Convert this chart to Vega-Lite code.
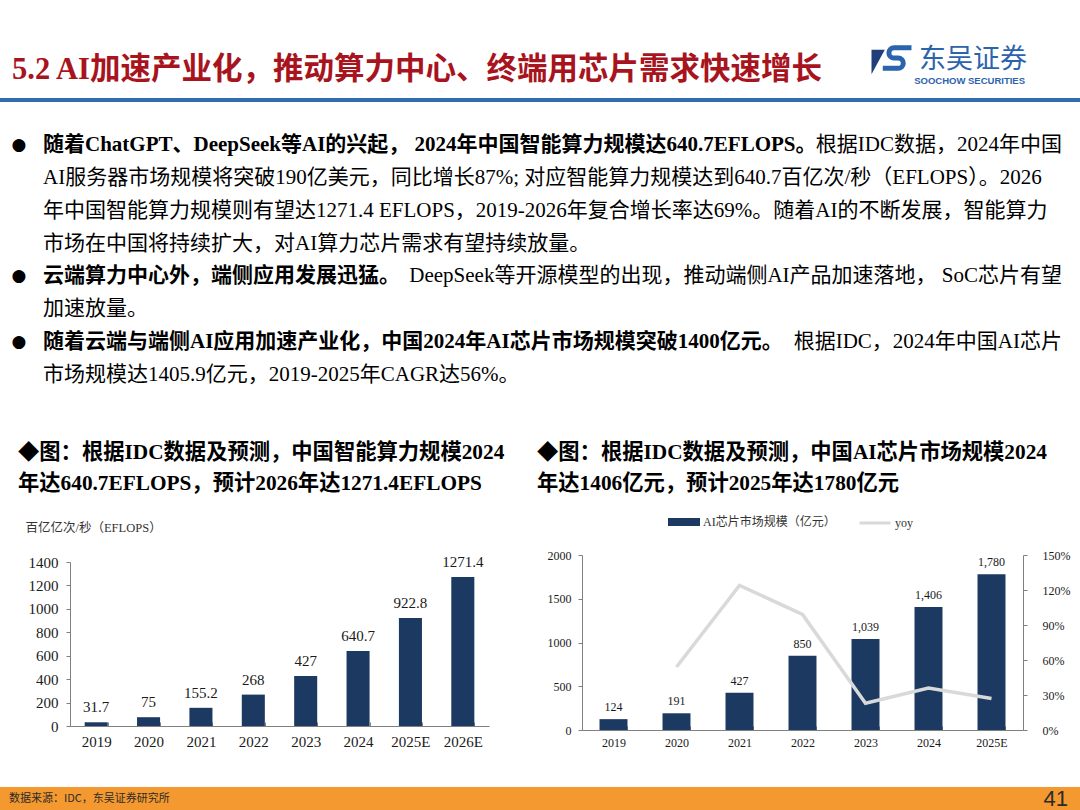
{
  "$schema": "https://vega.github.io/schema/vega-lite/v6.json",
  "background": "white",
  "padding": 0,
  "columns": 4,
  "spacing": 0,
  "bounds": "flush",
  "align": "each",
  "config": {
    "view": {"stroke": null},
    "font": "Liberation Serif, Noto Sans CJK SC",
    "text": {"font": "Liberation Serif, Noto Sans CJK SC", "color": "#000000"},
    "axis": {"labelFont": "Liberation Serif, Noto Sans CJK SC", "titleFont": "Liberation Serif, Noto Sans CJK SC", "grid": false, "domainColor": "#808080", "tickColor": "#808080", "labelColor": "#1a1a1a"},
    "legend": {"labelFont": "Liberation Serif, Noto Sans CJK SC"},
    "title": {"font": "Liberation Serif, Noto Sans CJK SC"}
  },
  "datasets": {
    "bullets": [
      {"line": 1, "part": "lead", "kind": "key", "bullet": true, "text": "随着ChatGPT、DeepSeek等AI的兴起， 2024年中国智能算力规模达640.7EFLOPS。"},
      {"line": 1, "part": "tail", "kind": "body", "bullet": false, "text": "根据IDC数据，2024年中国"},
      {"line": 2, "part": "lead", "kind": "body", "bullet": false, "text": "AI服务器市场规模将突破190亿美元，同比增长87%; 对应智能算力规模达到640.7百亿次/秒（EFLOPS）。2026"},
      {"line": 3, "part": "lead", "kind": "body", "bullet": false, "text": "年中国智能算力规模则有望达1271.4 EFLOPS，2019-2026年复合增长率达69%。随着AI的不断发展，智能算力"},
      {"line": 4, "part": "lead", "kind": "body", "bullet": false, "text": "市场在中国将持续扩大，对AI算力芯片需求有望持续放量。"},
      {"line": 5, "part": "lead", "kind": "key", "bullet": true, "text": "云端算力中心外，端侧应用发展迅猛。"},
      {"line": 5, "part": "tail", "kind": "body", "bullet": false, "text": "DeepSeek等开源模型的出现，推动端侧AI产品加速落地， SoC芯片有望"},
      {"line": 6, "part": "lead", "kind": "body", "bullet": false, "text": "加速放量。"},
      {"line": 7, "part": "lead", "kind": "key", "bullet": true, "text": "随着云端与端侧AI应用加速产业化，中国2024年AI芯片市场规模突破1400亿元。"},
      {"line": 7, "part": "tail", "kind": "body", "bullet": false, "text": "根据IDC，2024年中国AI芯片"},
      {"line": 8, "part": "lead", "kind": "body", "bullet": false, "text": "市场规模达1405.9亿元，2019-2025年CAGR达56%。"}
    ]
  },
  "concat": [
    {
      "width": 70, "height": 98,
      "data": {"values": [{"role": "section", "text": "5.2 AI加速产业化，推动算力中心、终端用芯片需求快速增长"}]},
      "mark": {"type": "text", "align": "left", "dx": -23, "dy": 21, "fontSize": 30.5, "fontWeight": "bold", "color": "#A8141E"},
      "encoding": {"text": {"field": "text"}}
    },
    {"width": 419, "height": 1, "data": {"values": []}, "mark": "text", "encoding": {}},
    {"width": 93, "height": 1, "data": {"values": []}, "mark": "text", "encoding": {}},
    {
      "width": 498, "height": 98,
      "data": {"values": [
        {"role": "org", "lang": "zh", "text": "东吴证券"},
        {"role": "org", "lang": "en", "text": "SOOCHOW SECURITIES"}
      ]},
      "layer": [
        {"transform": [{"filter": "datum.lang == 'zh'"}], "mark": {"type": "text", "align": "right", "dx": 196, "dy": 11, "fontSize": 27, "font": "Noto Sans CJK SC", "color": "#2C63AD"}, "encoding": {"text": {"field": "text"}}},
        {"transform": [{"filter": "datum.lang == 'en'"}], "mark": {"type": "text", "align": "right", "dx": 194, "dy": 32, "fontSize": 9.5, "fontWeight": "bold", "font": "Liberation Sans Narrow, Liberation Sans", "color": "#2C63AD"}, "encoding": {"text": {"field": "text"}}},
        {"transform": [{"filter": "datum.lang == 'zh'"}], "mark": {"type": "point", "shape": "M-1,-0.6 L-0.35,-0.6 L-1,0.6 Z", "size": 1681, "filled": true, "fill": "#1F3F7A", "strokeWidth": 0, "opacity": 1, "xOffset": 61, "yOffset": 13}, "encoding": {}},
        {"transform": [{"filter": "datum.lang == 'zh'"}], "mark": {"type": "point", "shape": "M0.95,-0.45 L0.1,-0.45 A0.25,0.25 0 0 0 0.1,0.05 L0.3,0.05 A0.25,0.25 0 0 1 0.3,0.55 L-0.45,0.55", "size": 1681, "filled": false, "stroke": "#2C63AD", "strokeWidth": 5, "opacity": 1, "xOffset": 61, "yOffset": 8}, "encoding": {}}
      ]
    },

    {"width": 70, "height": 4, "view": {"fill": "#2E6DB4"}, "data": {"values": []}, "mark": "text", "encoding": {}},
    {"width": 419, "height": 4, "view": {"fill": "#2E6DB4"}, "data": {"values": []}, "mark": "text", "encoding": {}},
    {"width": 93, "height": 4, "view": {"fill": "#2E6DB4"}, "data": {"values": []}, "mark": "text", "encoding": {}},
    {"width": 498, "height": 4, "view": {"fill": "#2E6DB4"}, "data": {"values": []}, "mark": "text", "encoding": {}},

    {
      "width": 70, "height": 453,
      "data": {"name": "bullets"},
      "transform": [{"filter": "datum.part == 'lead'"}],
      "encoding": {
        "y": {"field": "line", "type": "quantitative", "scale": {"domain": [-0.309, 13.478], "reverse": true, "nice": false, "zero": false}, "axis": null}
      },
      "layer": [
        {"transform": [{"filter": "datum.kind == 'key'"}], "mark": {"type": "text", "align": "left", "dx": 8, "fontSize": 21, "fontWeight": "bold", "color": "#000000"}, "encoding": {"text": {"field": "text"}}},
        {"transform": [{"filter": "datum.kind == 'body'"}], "mark": {"type": "text", "align": "left", "dx": 8, "fontSize": 21, "color": "#000000"}, "encoding": {"text": {"field": "text"}}},
        {"transform": [{"filter": "datum.bullet"}], "mark": {"type": "text", "align": "center", "dx": -16, "fontSize": 17, "font": "DejaVu Sans", "color": "#000000", "text": "●"}}
      ]
    },
    {"width": 419, "height": 1, "data": {"values": []}, "mark": "text", "encoding": {}},
    {"width": 93, "height": 1, "data": {"values": []}, "mark": "text", "encoding": {}},
    {
      "width": 498, "height": 453,
      "data": {"name": "bullets"},
      "transform": [{"filter": "datum.part == 'tail'"}],
      "mark": {"type": "text", "align": "right", "dx": 231, "fontSize": 21, "color": "#000000"},
      "encoding": {
        "y": {"field": "line", "type": "quantitative", "scale": {"domain": [-0.309, 13.478], "reverse": true, "nice": false, "zero": false}, "axis": null},
        "text": {"field": "text"}
      }
    },

    {"width": 70, "height": 1, "data": {"values": []}, "mark": "text", "encoding": {}},
    {
      "width": 419, "height": 171,
      "title": {"text": ["◆图：根据IDC数据及预测，中国智能算力规模2024", "　年达640.7EFLOPS，预计2026年达1271.4EFLOPS"], "anchor": "start", "frame": "group", "dx": -52, "offset": 27, "fontSize": 21.3, "fontWeight": "bold", "color": "#000000", "lineHeight": 31},
      "data": {"values": [
        {"year": "2019", "v": 31.7},
        {"year": "2020", "v": 75},
        {"year": "2021", "v": 155.2},
        {"year": "2022", "v": 268},
        {"year": "2023", "v": 427},
        {"year": "2024", "v": 640.7},
        {"year": "2025E", "v": 922.8},
        {"year": "2026E", "v": 1271.4}
      ]},
      "encoding": {
        "x": {"field": "year", "type": "ordinal", "sort": null, "scale": {"paddingInner": 0.56, "paddingOuter": 0.28}, "axis": {"title": null, "labelAngle": 0, "labelFontSize": 15, "labelPadding": 12, "tickBand": "extent", "tickSize": -4}},
        "y": {"field": "v", "type": "quantitative", "scale": {"domain": [0, 1400], "range": [171, 7], "nice": false}, "axis": {"title": "百亿亿次/秒（EFLOPS）", "titleAngle": 0, "titleAlign": "left", "titleBaseline": "middle", "titleX": -45, "titleY": -28, "titleFontSize": 12.5, "titleFontWeight": "normal", "titleColor": "#333333", "values": [0, 200, 400, 600, 800, 1000, 1200, 1400], "format": "d", "labelFontSize": 15, "labelPadding": 8, "tickSize": 4}}
      },
      "layer": [
        {"mark": {"type": "bar", "color": "#1C3961"}},
        {"mark": {"type": "text", "dy": -15, "fontSize": 15, "color": "#1a1a1a"}, "encoding": {"text": {"field": "v", "type": "quantitative", "format": ".4~f"}}}
      ]
    },
    {"width": 93, "height": 1, "data": {"values": []}, "mark": "text", "encoding": {}},
    {
      "width": 441, "height": 175,
      "title": {"text": ["◆图：根据IDC数据及预测，中国AI芯片市场规模2024", "　年达1406亿元，预计2025年达1780亿元"], "anchor": "start", "frame": "group", "dx": -45, "offset": 55, "fontSize": 21.3, "fontWeight": "bold", "color": "#000000", "lineHeight": 31},
      "data": {"values": [
        {"year": "2019", "size": 124, "yoy": null},
        {"year": "2020", "size": 191, "yoy": 0.54},
        {"year": "2021", "size": 427, "yoy": 1.24},
        {"year": "2022", "size": 850, "yoy": 0.99},
        {"year": "2023", "size": 1039, "yoy": 0.23},
        {"year": "2024", "size": 1406, "yoy": 0.36},
        {"year": "2025E", "size": 1780, "yoy": 0.27}
      ]},
      "encoding": {
        "x": {"field": "year", "type": "ordinal", "sort": null, "scale": {"paddingInner": 0.556, "paddingOuter": 0.278}, "axis": {"title": null, "labelAngle": 0, "labelFontSize": 12, "labelPadding": 11, "tickBand": "extent", "tickSize": -4}}
      },
      "layer": [
        {
          "encoding": {"y": {"field": "size", "type": "quantitative", "scale": {"domain": [0, 2000], "nice": false}, "axis": {"title": null, "values": [0, 500, 1000, 1500, 2000], "format": "d", "labelFontSize": 12, "labelPadding": 7, "tickSize": 4}}},
          "layer": [
            {"mark": {"type": "bar"}, "encoding": {"fill": {"datum": "AI芯片市场规模（亿元）", "type": "nominal", "scale": {"range": ["#1C3961"]}, "legend": {"orient": "none", "legendX": 668, "legendY": 506, "title": null, "symbolType": "M-1,-0.25H1V0.25H-1Z", "symbolSize": 1024, "symbolStrokeWidth": 0, "labelFontSize": 12, "labelColor": "#333333", "labelOffset": 3}}}},
            {"mark": {"type": "text", "dy": -12, "fontSize": 12, "color": "#1a1a1a"}, "encoding": {"text": {"field": "size", "type": "quantitative", "format": ","}}}
          ]
        },
        {
          "mark": {"type": "line", "strokeWidth": 3.5},
          "encoding": {
            "y": {"field": "yoy", "type": "quantitative", "scale": {"domain": [0, 1.5], "nice": false}, "axis": {"orient": "right", "title": null, "values": [0, 0.3, 0.6, 0.9, 1.2, 1.5], "format": ".0%", "labelFontSize": 12, "labelPadding": 15, "tickSize": 4}},
            "stroke": {"datum": "yoy", "type": "nominal", "scale": {"range": ["#D9D9D9"]}, "legend": {"orient": "none", "legendX": 858, "legendY": 506, "title": null, "symbolType": "stroke", "symbolSize": 961, "symbolStrokeWidth": 3, "labelFontSize": 12, "labelColor": "#333333", "labelOffset": 3}}
          }
        }
      ],
      "resolve": {"scale": {"y": "independent"}}
    },

    {"width": 70, "height": 57, "data": {"values": []}, "mark": "text", "encoding": {}},
    {"width": 419, "height": 1, "data": {"values": []}, "mark": "text", "encoding": {}},
    {"width": 93, "height": 1, "data": {"values": []}, "mark": "text", "encoding": {}},
    {"width": 498, "height": 1, "data": {"values": []}, "mark": "text", "encoding": {}},

    {"width": 70, "height": 23, "view": {"fill": "#F4992F"}, "data": {"values": []}, "mark": "text", "encoding": {}},
    {"width": 419, "height": 23, "view": {"fill": "#F4992F"}, "data": {"values": []}, "mark": "text", "encoding": {}},
    {"width": 93, "height": 23, "view": {"fill": "#F4992F"}, "data": {"values": []}, "mark": "text", "encoding": {}},
    {
      "width": 498, "height": 23, "view": {"fill": "#F4992F"},
      "data": {"values": [
        {"role": "source", "text": "数据来源：IDC，东吴证券研究所"},
        {"role": "page", "text": "41"}
      ]},
      "layer": [
        {"transform": [{"filter": "datum.role == 'source'"}], "mark": {"type": "text", "align": "left", "dx": -822, "fontSize": 11, "font": "Noto Sans CJK SC", "color": "#2b2b2b"}, "encoding": {"text": {"field": "text"}}},
        {"transform": [{"filter": "datum.role == 'page'"}], "mark": {"type": "text", "align": "right", "dx": 237, "fontSize": 22, "font": "Liberation Sans Narrow, Liberation Sans", "color": "#2b2b2b"}, "encoding": {"text": {"field": "text"}}}
      ]
    }
  ]
}
